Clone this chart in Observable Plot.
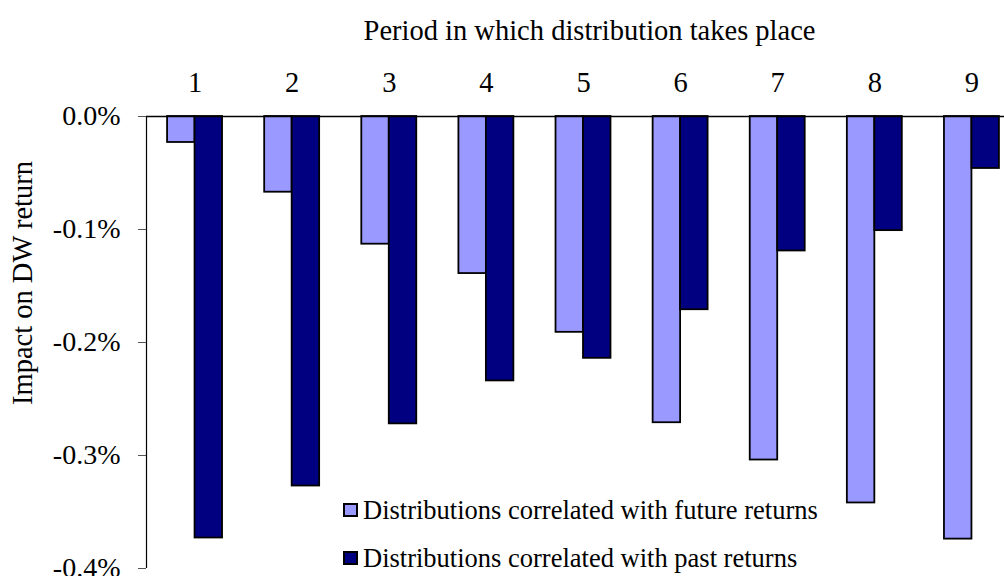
<!DOCTYPE html>
<html>
<head>
<meta charset="utf-8">
<script src="https://cdn.jsdelivr.net/npm/d3@7"></script>
<script src="https://cdn.jsdelivr.net/npm/@observablehq/plot@0.6"></script>
<style>
  html, body { margin: 0; padding: 0; background: #fff; overflow: hidden; }
  #wrap { position: relative; width: 1004px; height: 576px; overflow: hidden; font-family: "Liberation Serif", "Times New Roman", serif; }
  #wrap svg { max-width: none; display: block; }
  .legend { position: absolute; left: 343px; display: flex; align-items: center; font-size: 26.5px; line-height: 30px; white-space: nowrap; color: #000; }
  .legend .sw { box-sizing: border-box; width: 15px; height: 14px; border: 2px solid #000; margin-right: 5px; }
</style>
</head>
<body>
<div id="wrap"></div>
<script>
// ---- data ----
const periods = [1, 2, 3, 4, 5, 6, 7, 8, 9];
const futureReturns = [-0.023, -0.067, -0.113, -0.139, -0.191, -0.271, -0.304, -0.342, -0.374]; // % units
const pastReturns   = [-0.373, -0.327, -0.272, -0.234, -0.214, -0.171, -0.119, -0.101, -0.046];
const seriesNames = ["Distributions correlated with future returns", "Distributions correlated with past returns"];
const seriesColors = ["#9999FF", "#000080"];
const yTicks = [0, -0.1, -0.2, -0.3, -0.4];
const xTitle = "Period in which distribution takes place";
const yTitle = "Impact on DW return";

// ---- table ----
const rows = [];
periods.forEach((p, i) => {
  rows.push({period: p, series: seriesNames[0], value: futureReturns[i], side: -1});
  rows.push({period: p, series: seriesNames[1], value: pastReturns[i], side: 1});
});
const half = 0.283; // bar width in period units

const font = '"Liberation Serif", "Times New Roman", serif';
const chart = Plot.plot({
  width: 1020,
  height: 576,
  marginLeft: 146,
  marginRight: 0,
  marginTop: 116,
  marginBottom: 8,
  style: {fontFamily: font, fontSize: "28px", background: "white", color: "black"},
  x: {domain: [0.5, 9.5]},
  y: {domain: [-0.4, 0]},
  color: {domain: seriesNames, range: seriesColors},
  marks: [
    Plot.rectY(rows, {
      x1: d => d.side < 0 ? d.period - half : d.period,
      x2: d => d.side < 0 ? d.period : d.period + half,
      y1: 0,
      y2: "value",
      fill: "series",
      stroke: "black",
      strokeWidth: 1.8
    }),
    Plot.ruleY([0], {stroke: "black", strokeWidth: 1.5}),
    Plot.ruleX([0.5], {stroke: "black", strokeWidth: 1.2}),
    Plot.axisX(periods, {anchor: "top", tickSize: 0, tickPadding: 24.5, tickFormat: d => String(d), label: null, fontSize: 28.5, fontFamily: font}),
    Plot.axisY(yTicks, {anchor: "left", tickSize: 8, tickPadding: 18, tickFormat: d => d.toFixed(1) + "%", label: null, fontSize: 28, fontFamily: font, stroke: "#555"}),
    Plot.text([xTitle], {frameAnchor: "top", lineAnchor: "top", textAnchor: "middle", dx: 6, dy: -97, fontSize: 28.5, fontFamily: font}),
    Plot.text([yTitle], {frameAnchor: "left", textAnchor: "middle", lineAnchor: "middle", rotate: -90, dx: -123.5, dy: -59.5, fontSize: 28.5, fontFamily: font})
  ]
});

const wrap = document.getElementById("wrap");
wrap.appendChild(chart);

// legend overlay
const legendTops = [495, 543];
seriesNames.forEach((name, i) => {
  const div = document.createElement("div");
  div.className = "legend";
  div.style.top = legendTops[i] + "px";
  const sw = document.createElement("span");
  sw.className = "sw";
  sw.style.background = seriesColors[i];
  const tx = document.createElement("span");
  tx.textContent = name;
  div.appendChild(sw);
  div.appendChild(tx);
  wrap.appendChild(div);
});
</script>
</body>
</html>
